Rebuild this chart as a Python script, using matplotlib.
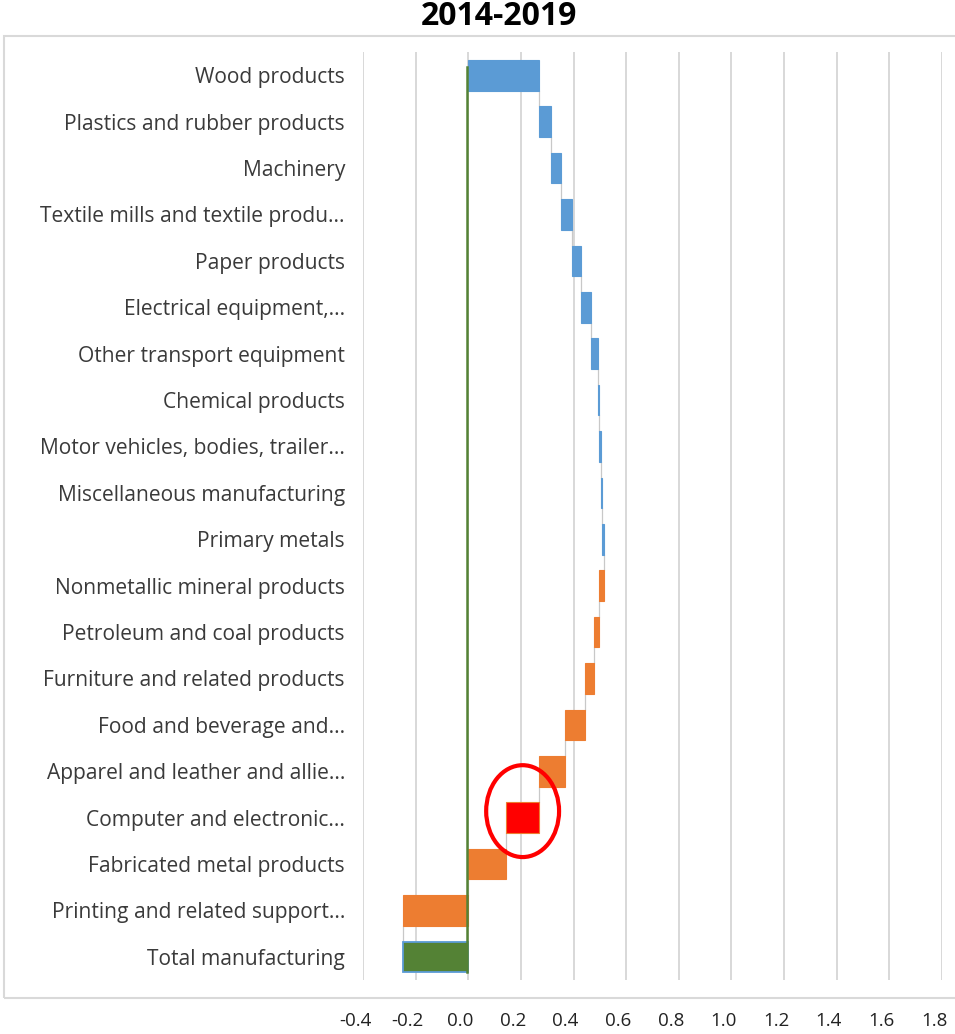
import numpy as np
import matplotlib
matplotlib.use("Agg")
import matplotlib.pyplot as plt
from matplotlib.patches import Ellipse, Rectangle
from matplotlib.transforms import ScaledTranslation

# industries top to bottom, change in contribution (percentage points)
industries = [
    "Wood products",
    "Plastics and rubber products",
    "Machinery",
    "Textile mills and textile produ...",
    "Paper products",
    "Electrical equipment,...",
    "Other transport equipment",
    "Chemical products",
    "Motor vehicles, bodies, trailer...",
    "Miscellaneous manufacturing",
    "Primary metals",
    "Nonmetallic mineral products",
    "Petroleum and coal products",
    "Furniture and related products",
    "Food and beverage and...",
    "Apparel and leather and allie...",
    "Computer and electronic...",
    "Fabricated metal products",
    "Printing and related support...",
]
changes = [0.270, 0.046, 0.038, 0.039, 0.037, 0.038, 0.024, 0.006, 0.007, 0.003,
           0.006, -0.017, -0.021, -0.031, -0.076, -0.099, -0.127, -0.143, -0.247]
total_label = "Total manufacturing"
highlight = "Computer and electronic..."

x_ticks = [-0.4, -0.2, 0.0, 0.2, 0.4, 0.6, 0.8, 1.0, 1.2, 1.4, 1.6, 1.8]
x_tick_labels = ["-0.4", "-0.2", "0.0", "0.2", "0.4", "0.6", "0.8", "1.0", "1.2", "1.4", "1.6", "1.8"]

BLUE = "#5b9bd5"
ORANGE = "#ed7d31"
GREEN = "#548235"
RED = "#ff0000"

plt.rcParams["font.family"] = ["Open Sans", "DejaVu Sans"]

fig = plt.figure(figsize=(9.55, 10.34), dpi=100)
ax = fig.add_axes([0.3801, 0.0522, 0.6063, 0.8975])

n = len(industries)
ends = np.cumsum(changes)
starts = ends - np.array(changes)
rows = np.arange(n, 0, -1)  # top row = n, total = 0
total = ends[-1]
h = 0.66

colors = []
edges = []
for name, c in zip(industries, changes):
    if name == highlight:
        colors.append(RED)
        edges.append(ORANGE)
    elif c >= 0:
        colors.append(BLUE)
        edges.append(BLUE)
    else:
        colors.append(ORANGE)
        edges.append(ORANGE)

ax.barh(rows, changes, left=starts, height=h, color=colors, edgecolor=edges,
        linewidth=0.8, zorder=3)
ax.barh([0], [total], left=[0], height=h, color=GREEN, edgecolor=BLUE,
        linewidth=1.3, zorder=3)

# connectors between consecutive bars
levels = list(ends)
for i in range(n):
    y_top = rows[i] - h / 2
    y_bot = rows[i] - 1 + h / 2
    ax.plot([levels[i], levels[i]], [y_top, y_bot], color="#c8c8c8", lw=0.9, zorder=2)

# reference line at zero
ax.plot([-0.006, -0.006], [n + 0.17, -h / 2], color=GREEN, lw=1.8, zorder=4)

# circle the highlighted bar
k = industries.index(highlight)
ax.add_patch(Ellipse((starts[k] + changes[k] / 2, rows[k] + 0.14), 0.277, 1.98,
                     fill=False, edgecolor=RED, lw=3, zorder=5))

ax.set_xlim(-0.4, 1.8)
ax.set_ylim(-0.5, n + 0.5)
ax.set_xticks(x_ticks)
ax.set_xticklabels(x_tick_labels)
ax.set_yticks(list(rows) + [0])
ax.set_yticklabels(industries + [total_label])
ax.grid(axis="x", color="#d6d6d6", lw=1.3, zorder=0)
for s in ax.spines.values():
    s.set_visible(False)
ax.tick_params(axis="y", length=0, pad=13, labelsize=15.1, labelcolor="#3a3a3a")
ax.tick_params(axis="x", length=0, pad=23, labelsize=13.5, labelcolor="#222222")
shift = ScaledTranslation(-8 / 100, 0, fig.dpi_scale_trans)
for lab in ax.get_xticklabels():
    lab.set_transform(lab.get_transform() + shift)

# chart frame
fig.patches.append(Rectangle((4 / 955, 1 - 998 / 1034), 1.0, (998 - 36) / 1034,
                             transform=fig.transFigure, fill=False,
                             edgecolor="#d9d9d9", lw=1.5))

fig.text(0.523, 0.984, "2014-2019", ha="center", va="center",
         fontsize=23, fontweight="bold")

fig.savefig("out.png", dpi=100)
